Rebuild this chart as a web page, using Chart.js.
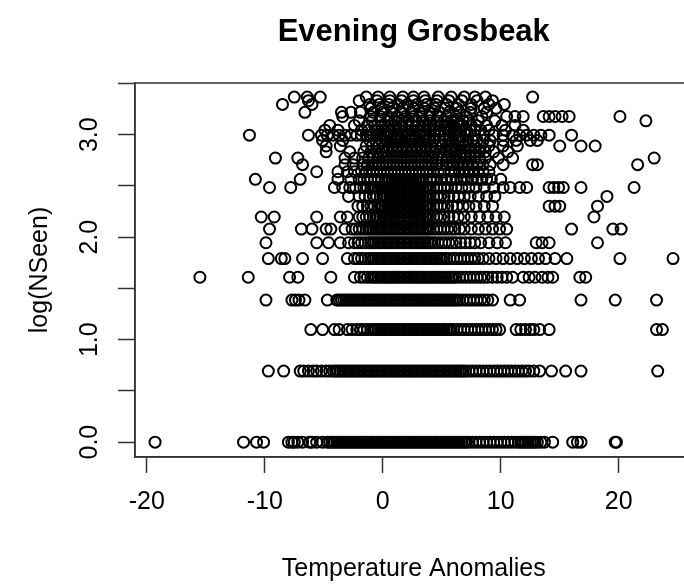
<!DOCTYPE html>
<html>
<head>
<meta charset="utf-8">
<script src="https://cdn.jsdelivr.net/npm/chart.js@4.4.1/dist/chart.umd.min.js"></script>
<style>
  html, body { margin: 0; padding: 0; background: #fff; overflow: hidden; }
  #wrap { width: 700px; height: 588px; }
</style>
</head>
<body>
<div id="wrap"><canvas id="chart" width="700" height="588"></canvas></div>
<script>
// temperature anomaly of each count, grouped by how many birds were seen (NSeen)
const seen1 = [-19.3, -11.8, -10.7, -10.1, -8.0, -7.7, -7.5, -7.2, -6.8, -6.2, -6.0, -5.6, -5.1, -4.7, -4.5, -4.3, -4.1, -3.9, -3.7, -3.5, -3.3, -3.1, -2.9, -2.7, -2.5, -2.3, -2.1, -1.9, -1.7, -1.5, -1.3, -1.1, -0.9, -0.7, -0.5, -0.3, -0.1, 0.1, 0.3, 0.5, 0.7, 0.9, 1.1, 1.3, 1.5, 1.7, 1.9, 2.1, 2.3, 2.5, 2.7, 2.9, 3.1, 3.3, 3.5, 3.7, 3.9, 4.1, 4.3, 4.5, 4.7, 4.9, 5.1, 5.3, 5.5, 5.7, 5.9, 6.1, 6.3, 6.5, 6.7, 6.9, 7.1, 7.3, 7.6, 7.9, 8.2, 8.5, 8.8, 9.1, 9.4, 9.7, 10.0, 10.3, 10.6, 10.9, 11.2, 11.5, 11.7, 11.9, 12.1, 12.3, 12.5, 12.7, 12.9, 13.1, 13.4, 13.7, 14.4, 16.1, 16.5, 16.8, 19.7, 19.8];
const seen2 = [-9.7, -8.4, -7.0, -6.7, -6.3, -5.9, -5.6, -5.2, -4.8, -4.5, -4.2, -4.0, -3.8, -3.6, -3.4, -3.2, -3.0, -2.8, -2.6, -2.4, -2.2, -2.0, -1.8, -1.6, -1.4, -1.2, -1.0, -0.8, -0.6, -0.4, -0.2, 0.0, 0.2, 0.4, 0.6, 0.8, 1.0, 1.2, 1.4, 1.6, 1.8, 2.0, 2.2, 2.4, 2.6, 2.8, 3.0, 3.2, 3.4, 3.6, 3.8, 4.0, 4.2, 4.4, 4.6, 4.8, 5.0, 5.2, 5.4, 5.6, 5.8, 6.0, 6.2, 6.4, 6.6, 6.8, 7.0, 7.3, 7.6, 7.9, 8.2, 8.5, 8.8, 9.1, 9.4, 9.7, 10.0, 10.3, 10.6, 10.9, 11.2, 11.5, 11.8, 12.1, 12.4, 12.8, 13.3, 14.3, 15.5, 16.8, 23.3];
const seen3 = [-6.1, -5.1, -4.1, -3.7, -3.0, -2.6, -2.2, -1.9, -1.6, -1.3, -1.0, -0.8, -0.6, -0.4, -0.2, 0.0, 0.2, 0.4, 0.6, 0.8, 1.0, 1.2, 1.4, 1.6, 1.8, 2.0, 2.2, 2.4, 2.6, 2.8, 3.0, 3.2, 3.4, 3.6, 3.8, 4.0, 4.2, 4.4, 4.6, 4.8, 5.0, 5.2, 5.4, 5.6, 5.8, 6.0, 6.3, 6.6, 6.9, 7.2, 7.5, 7.8, 8.1, 8.4, 8.7, 9.0, 9.3, 9.6, 9.9, 11.3, 11.7, 12.1, 12.5, 12.8, 13.3, 14.1, 23.2, 23.7];
const seen4 = [-9.9, -7.7, -7.4, -7.1, -6.6, -4.7, -3.9, -3.7, -3.5, -3.3, -3.1, -2.9, -2.7, -2.5, -2.3, -2.1, -1.9, -1.7, -1.5, -1.3, -1.1, -0.9, -0.7, -0.5, -0.3, -0.1, 0.1, 0.3, 0.5, 0.7, 0.9, 1.1, 1.3, 1.5, 1.7, 1.9, 2.1, 2.3, 2.5, 2.7, 2.9, 3.1, 3.3, 3.5, 3.7, 3.9, 4.1, 4.3, 4.5, 4.7, 4.9, 5.1, 5.3, 5.5, 5.7, 5.9, 6.1, 6.3, 6.5, 6.8, 7.1, 7.4, 7.7, 8.0, 8.3, 8.6, 8.9, 9.3, 10.8, 11.6, 16.8, 19.7, 23.2];
const seen5 = [-15.5, -11.4, -7.9, -7.2, -4.4, -2.4, -1.9, -1.6, -1.3, -1.0, -0.8, -0.6, -0.4, -0.2, 0.0, 0.2, 0.4, 0.6, 0.8, 1.0, 1.2, 1.4, 1.6, 1.8, 2.0, 2.2, 2.4, 2.6, 2.8, 3.0, 3.2, 3.4, 3.6, 3.8, 4.0, 4.2, 4.4, 4.6, 4.8, 5.0, 5.2, 5.4, 5.6, 5.8, 6.0, 6.2, 6.5, 6.8, 7.1, 7.4, 7.7, 8.0, 8.3, 8.6, 8.9, 9.3, 9.7, 10.1, 10.5, 11.0, 11.9, 12.4, 12.9, 13.5, 14.0, 14.4, 16.7, 17.2];
const seen6 = [-9.7, -8.6, -8.3, -6.8, -5.1, -3.0, -2.4, -2.1, -1.8, -1.5, -1.2, -1.0, -0.8, -0.6, -0.4, -0.2, 0.0, 0.2, 0.4, 0.6, 0.8, 1.0, 1.2, 1.4, 1.6, 1.8, 2.0, 2.2, 2.4, 2.6, 2.8, 3.0, 3.2, 3.4, 3.6, 3.8, 4.0, 4.2, 4.4, 4.6, 4.8, 5.0, 5.2, 5.4, 5.7, 6.0, 6.3, 6.6, 6.9, 7.2, 7.5, 7.8, 8.1, 8.5, 9.0, 9.6, 10.2, 10.8, 11.4, 12.0, 12.6, 13.2, 13.8, 14.6, 15.6, 20.1, 24.6];
const seen7 = [-9.9, -5.6, -4.6, -3.6, -2.9, -2.4, -2.1, -1.8, -1.5, -1.2, -1.0, -0.8, -0.6, -0.4, -0.2, 0.0, 0.2, 0.4, 0.6, 0.8, 1.0, 1.2, 1.4, 1.6, 1.8, 2.0, 2.2, 2.4, 2.6, 2.8, 3.0, 3.2, 3.4, 3.6, 3.8, 4.0, 4.2, 4.4, 4.7, 5.0, 5.3, 5.6, 5.9, 6.2, 6.6, 7.0, 7.4, 7.8, 8.3, 9.0, 9.7, 10.4, 13.0, 13.5, 14.1, 18.2];
const seen8 = [-9.6, -6.9, -6.0, -4.8, -4.4, -3.2, -2.6, -2.3, -2.0, -1.7, -1.4, -1.2, -1.0, -0.8, -0.6, -0.4, -0.2, 0.0, 0.2, 0.4, 0.6, 0.8, 1.0, 1.2, 1.4, 1.6, 1.8, 2.0, 2.2, 2.4, 2.6, 2.8, 3.0, 3.2, 3.4, 3.6, 3.8, 4.0, 4.3, 4.6, 4.9, 5.2, 5.5, 5.8, 6.1, 6.5, 6.9, 7.5, 8.1, 8.7, 9.3, 9.9, 10.5, 16.0, 19.5, 20.2];
const seen9 = [-10.3, -9.2, -5.6, -3.6, -3.0, -2.0, -1.7, -1.4, -1.1, -0.8, -0.6, -0.4, -0.2, 0.0, 0.2, 0.4, 0.6, 0.8, 1.0, 1.2, 1.4, 1.6, 1.8, 2.0, 2.2, 2.4, 2.6, 2.8, 3.0, 3.2, 3.4, 3.6, 3.8, 4.0, 4.3, 4.6, 4.9, 5.2, 5.6, 6.0, 6.4, 6.9, 7.5, 8.2, 8.9, 9.6, 10.3, 17.9];
const seen10 = [-2.1, -1.7, -1.3, -1.0, -0.7, -0.4, -0.2, 0.0, 0.2, 0.4, 0.6, 0.8, 1.0, 1.2, 1.4, 1.6, 1.8, 2.0, 2.2, 2.4, 2.6, 2.8, 3.0, 3.2, 3.4, 3.6, 3.8, 4.0, 4.3, 4.6, 4.9, 5.2, 5.5, 5.9, 6.3, 6.8, 7.3, 7.9, 8.6, 9.3, 14.1, 14.6, 15.0, 18.2];
const seen11 = [-2.9, -2.0, -1.5, -1.1, -0.8, -0.5, -0.2, 0.0, 0.2, 0.4, 0.6, 0.8, 1.0, 1.2, 1.4, 1.6, 1.8, 2.0, 2.2, 2.4, 2.6, 2.8, 3.0, 3.2, 3.4, 3.6, 3.8, 4.0, 4.3, 4.6, 4.9, 5.2, 5.6, 6.0, 6.4, 6.9, 7.4, 8.1, 8.8, 9.5, 19.0];
const seen12 = [-9.6, -7.8, -4.1, -3.4, -2.8, -2.3, -1.9, -1.6, -1.3, -1.0, -0.8, -0.6, -0.4, -0.2, 0.0, 0.2, 0.4, 0.6, 0.8, 1.0, 1.2, 1.4, 1.6, 1.8, 2.0, 2.2, 2.4, 2.6, 2.8, 3.0, 3.2, 3.4, 3.6, 3.8, 4.0, 4.3, 4.6, 4.9, 5.2, 5.5, 5.8, 6.2, 6.7, 7.3, 7.9, 8.6, 9.4, 10.2, 10.8, 11.6, 12.2, 14.1, 14.5, 14.9, 15.3, 16.8, 21.3];
const seen13 = [-10.8, -7.0, -3.8, -2.7, -2.0, -1.6, -1.3, -1.0, -0.7, -0.4, -0.1, 0.2, 0.4, 0.6, 0.8, 1.0, 1.2, 1.4, 1.6, 1.8, 2.0, 2.2, 2.4, 2.6, 2.8, 3.0, 3.2, 3.4, 3.7, 4.0, 4.3, 4.6, 5.0, 5.4, 5.8, 6.2, 6.6, 6.9, 7.2, 7.6, 8.0, 8.4, 8.8, 9.2, 10.0];
const seen14 = [-5.6, -3.8, -3.0, -2.4, -1.8, -1.4, -1.1, -0.8, -0.5, -0.2, 0.1, 0.4, 0.7, 1.0, 1.3, 1.6, 1.9, 2.2, 2.5, 2.8, 3.1, 3.4, 3.7, 4.0, 4.3, 4.7, 5.2, 5.8, 6.1, 6.5, 6.9, 7.3, 7.7, 8.1, 8.5, 9.0];
const seen15 = [-6.8, -3.2, -2.5, -1.7, -1.3, -0.9, -0.6, -0.3, 0.0, 0.3, 0.6, 0.9, 1.2, 1.5, 1.8, 2.1, 2.4, 2.7, 3.0, 3.3, 3.6, 3.9, 4.2, 4.6, 5.0, 5.4, 5.7, 6.0, 6.4, 6.8, 7.2, 7.6, 8.0, 8.5, 9.1, 10.2, 12.7, 13.1, 21.6];
const seen16 = [-9.1, -7.2, -3.2, -2.4, -1.7, -1.2, -0.8, -0.4, 0.0, 0.3, 0.6, 0.9, 1.2, 1.5, 1.8, 2.1, 2.4, 2.7, 3.0, 3.3, 3.6, 3.9, 4.2, 4.6, 5.0, 5.5, 5.9, 6.2, 6.6, 7.0, 7.4, 7.8, 8.2, 8.7, 9.8, 11.0, 23.0];
const seen17 = [-4.8, -2.8, -1.6, -1.0, -0.5, 0.0, 0.4, 0.8, 1.2, 1.6, 2.0, 2.4, 2.8, 3.2, 3.6, 4.0, 4.4, 4.9, 5.4, 5.7, 6.0, 6.3, 6.7, 7.0, 7.4, 7.8, 8.2, 8.7, 9.4, 10.6];
const seen18 = [-4.8, -3.6, -1.4, -0.9, -0.4, 0.1, 0.5, 0.9, 1.3, 1.7, 2.1, 2.5, 2.9, 3.3, 3.7, 4.1, 4.5, 5.0, 5.5, 5.8, 6.1, 6.5, 6.9, 7.3, 7.8, 8.3, 9.0, 10.2, 11.4, 15.0, 16.8, 18.0];
const seen19 = [-5.1, -3.4, -1.1, -0.6, -0.1, 0.3, 0.7, 1.1, 1.5, 1.9, 2.3, 2.7, 3.1, 3.5, 3.9, 4.3, 4.8, 5.3, 5.6, 5.9, 6.2, 6.5, 6.8, 7.2, 7.6, 8.0, 8.5, 9.1, 10.2, 11.3, 12.5, 13.1];
const seen20 = [-11.3, -6.3, -5.2, -4.7, -4.2, -3.7, -3.2, -2.7, -2.2, -1.8, -1.4, -1.1, -0.8, -0.5, -0.2, 0.1, 0.4, 0.7, 1.0, 1.3, 1.6, 1.9, 2.2, 2.5, 2.8, 3.1, 3.4, 3.7, 4.0, 4.4, 4.8, 5.2, 5.6, 6.0, 6.6, 7.2, 7.8, 8.6, 9.4, 10.2, 11.0, 11.6, 12.2, 12.8, 13.4, 14.1, 16.0];
const seen21 = [-4.9, -3.8, -1.8, -1.2, -0.6, -0.1, 0.4, 0.9, 1.4, 1.9, 2.4, 2.9, 3.4, 3.9, 4.4, 4.9, 5.2, 5.5, 5.8, 6.2, 6.6, 7.0, 7.4, 7.8, 8.3, 9.0, 10.4, 11.9];
const seen22 = [-4.5, -2.4, -1.3, -0.7, -0.1, 0.5, 1.0, 1.5, 2.0, 2.5, 3.0, 3.5, 4.0, 4.5, 5.0, 5.3, 5.6, 6.0, 6.4, 6.8, 7.5, 7.9, 8.8, 10.1, 11.2];
const seen23 = [-2.0, -0.9, -0.2, 0.4, 1.0, 1.6, 2.2, 2.8, 3.4, 4.0, 4.6, 5.2, 5.8, 6.3, 6.8, 7.3, 8.1, 9.5, 22.3];
const seen24 = [-3.4, -1.0, -0.2, 0.5, 1.2, 1.9, 2.6, 3.3, 4.0, 4.7, 5.4, 6.2, 7.1, 8.4, 10.5, 11.2, 11.9, 13.6, 14.1, 14.6, 15.2, 15.8, 20.1];
const seen25 = [-6.6, -3.5, -2.7, -1.9, -0.8, 0.0, 0.8, 1.6, 2.4, 3.2, 4.0, 4.8, 5.6, 6.5, 7.4, 8.8];
const seen26 = [-1.0, -0.1, 0.8, 1.7, 2.6, 3.5, 4.4, 5.3, 6.3, 7.5, 8.6, 9.6];
const seen27 = [-8.5, -6.0, -1.1, -0.3, 0.5, 1.3, 2.1, 2.9, 3.7, 4.5, 5.4, 6.4, 7.5, 9.0, 10.3];
const seen28 = [-6.3, -2.0, -0.5, 0.6, 1.6, 2.6, 3.6, 4.6, 5.6, 6.7, 8.0, 9.3];
const seen29 = [-7.5, -6.4, -5.3, -1.4, -0.4, 0.6, 1.7, 2.6, 3.5, 4.7, 5.8, 6.9, 7.8, 8.7, 12.7];

const nSeen = [1, 2, 3, 4, 5, 6, 7, 8, 9, 10, 11, 12, 13, 14, 15, 16, 17, 18, 19, 20, 21, 22, 23, 24, 25, 26, 27, 28, 29];
const tempsBySeen = [seen1, seen2, seen3, seen4, seen5, seen6, seen7, seen8, seen9, seen10, seen11, seen12, seen13, seen14, seen15,
  seen16, seen17, seen18, seen19, seen20, seen21, seen22, seen23, seen24, seen25, seen26, seen27, seen28, seen29];

const xTicks = [-20, -10, 0, 10, 20];
const yTicks = [0, 0.5, 1, 1.5, 2, 2.5, 3, 3.5];
const yTickLabels = ['0.0', '', '1.0', '', '2.0', '', '3.0', ''];

const FONT = "'Liberation Sans', Arial, sans-serif";

// one point per count: x = temperature anomaly, y = log(NSeen)
const points = [];
nSeen.forEach((n, i) => {
  tempsBySeen[i].forEach(t => points.push({ x: t, y: Math.log(n) }));
});

// R-style box round the plot and the rotated y tick labels
const rFrame = {
  id: 'rFrame',
  afterDraw(chart) {
    const { ctx, chartArea: a } = chart;
    const y = chart.scales.y;
    ctx.save();
    ctx.strokeStyle = '#333';
    ctx.lineWidth = 1.5;
    ctx.strokeRect(a.left, a.top, a.right - a.left, a.bottom - a.top);

    ctx.fillStyle = '#000';
    ctx.font = '25px ' + FONT;
    ctx.textAlign = 'center';
    ctx.textBaseline = 'alphabetic';
    yTicks.forEach((v, i) => {
      if (!yTickLabels[i]) return;
      ctx.save();
      ctx.translate(97, y.getPixelForValue(v));
      ctx.rotate(-Math.PI / 2);
      ctx.fillText(yTickLabels[i], 0, 0);
      ctx.restore();
    });
    ctx.restore();
  }
};

new Chart(document.getElementById('chart'), {
  type: 'scatter',
  data: {
    datasets: [{
      data: points,
      pointStyle: 'circle',
      pointRadius: 5.5,
      pointHoverRadius: 5.5,
      pointBorderWidth: 2,
      borderColor: '#000',
      backgroundColor: 'rgba(0,0,0,0)'
    }]
  },
  options: {
    responsive: false,
    animation: false,
    events: [],
    layout: { padding: { left: 0, right: 7, top: 0, bottom: 0 } },
    plugins: {
      legend: { display: false },
      tooltip: { enabled: false },
      title: {
        display: true,
        text: 'Evening Grosbeak',
        fullSize: false,
        color: '#000',
        font: { family: FONT, size: 31, weight: 'bold' },
        padding: { top: 14, bottom: 31.8 }
      }
    },
    scales: {
      x: {
        type: 'linear',
        min: -21,
        max: 26.25,
        afterBuildTicks: s => { s.ticks = xTicks.map(v => ({ value: v })); },
        afterFit: s => { s.height = 131; },
        grid: { drawOnChartArea: false, tickLength: 16, tickColor: '#333', tickWidth: 1.5 },
        border: { color: '#333', width: 1.5 },
        ticks: {
          color: '#000',
          font: { family: FONT, size: 25 },
          padding: 14,
          maxRotation: 0,
          autoSkip: false,
          callback: v => String(v)
        },
        title: {
          display: true,
          text: 'Temperature Anomalies',
          color: '#000',
          font: { family: FONT, size: 25 },
          padding: { top: 0, bottom: 4 }
        }
      },
      y: {
        type: 'linear',
        min: -0.145,
        max: 3.505,
        afterBuildTicks: s => { s.ticks = yTicks.map(v => ({ value: v })); },
        afterFit: s => { s.width = 135; },
        grid: { drawOnChartArea: false, tickLength: 17, tickColor: '#333', tickWidth: 1.5 },
        border: { color: '#333', width: 1.5 },
        ticks: { display: false },
        title: {
          display: true,
          text: 'log(NSeen)',
          color: '#000',
          font: { family: FONT, size: 25 },
          padding: { top: 25, bottom: 0 }
        }
      }
    }
  },
  plugins: [rFrame]
});
</script>
</body>
</html>
